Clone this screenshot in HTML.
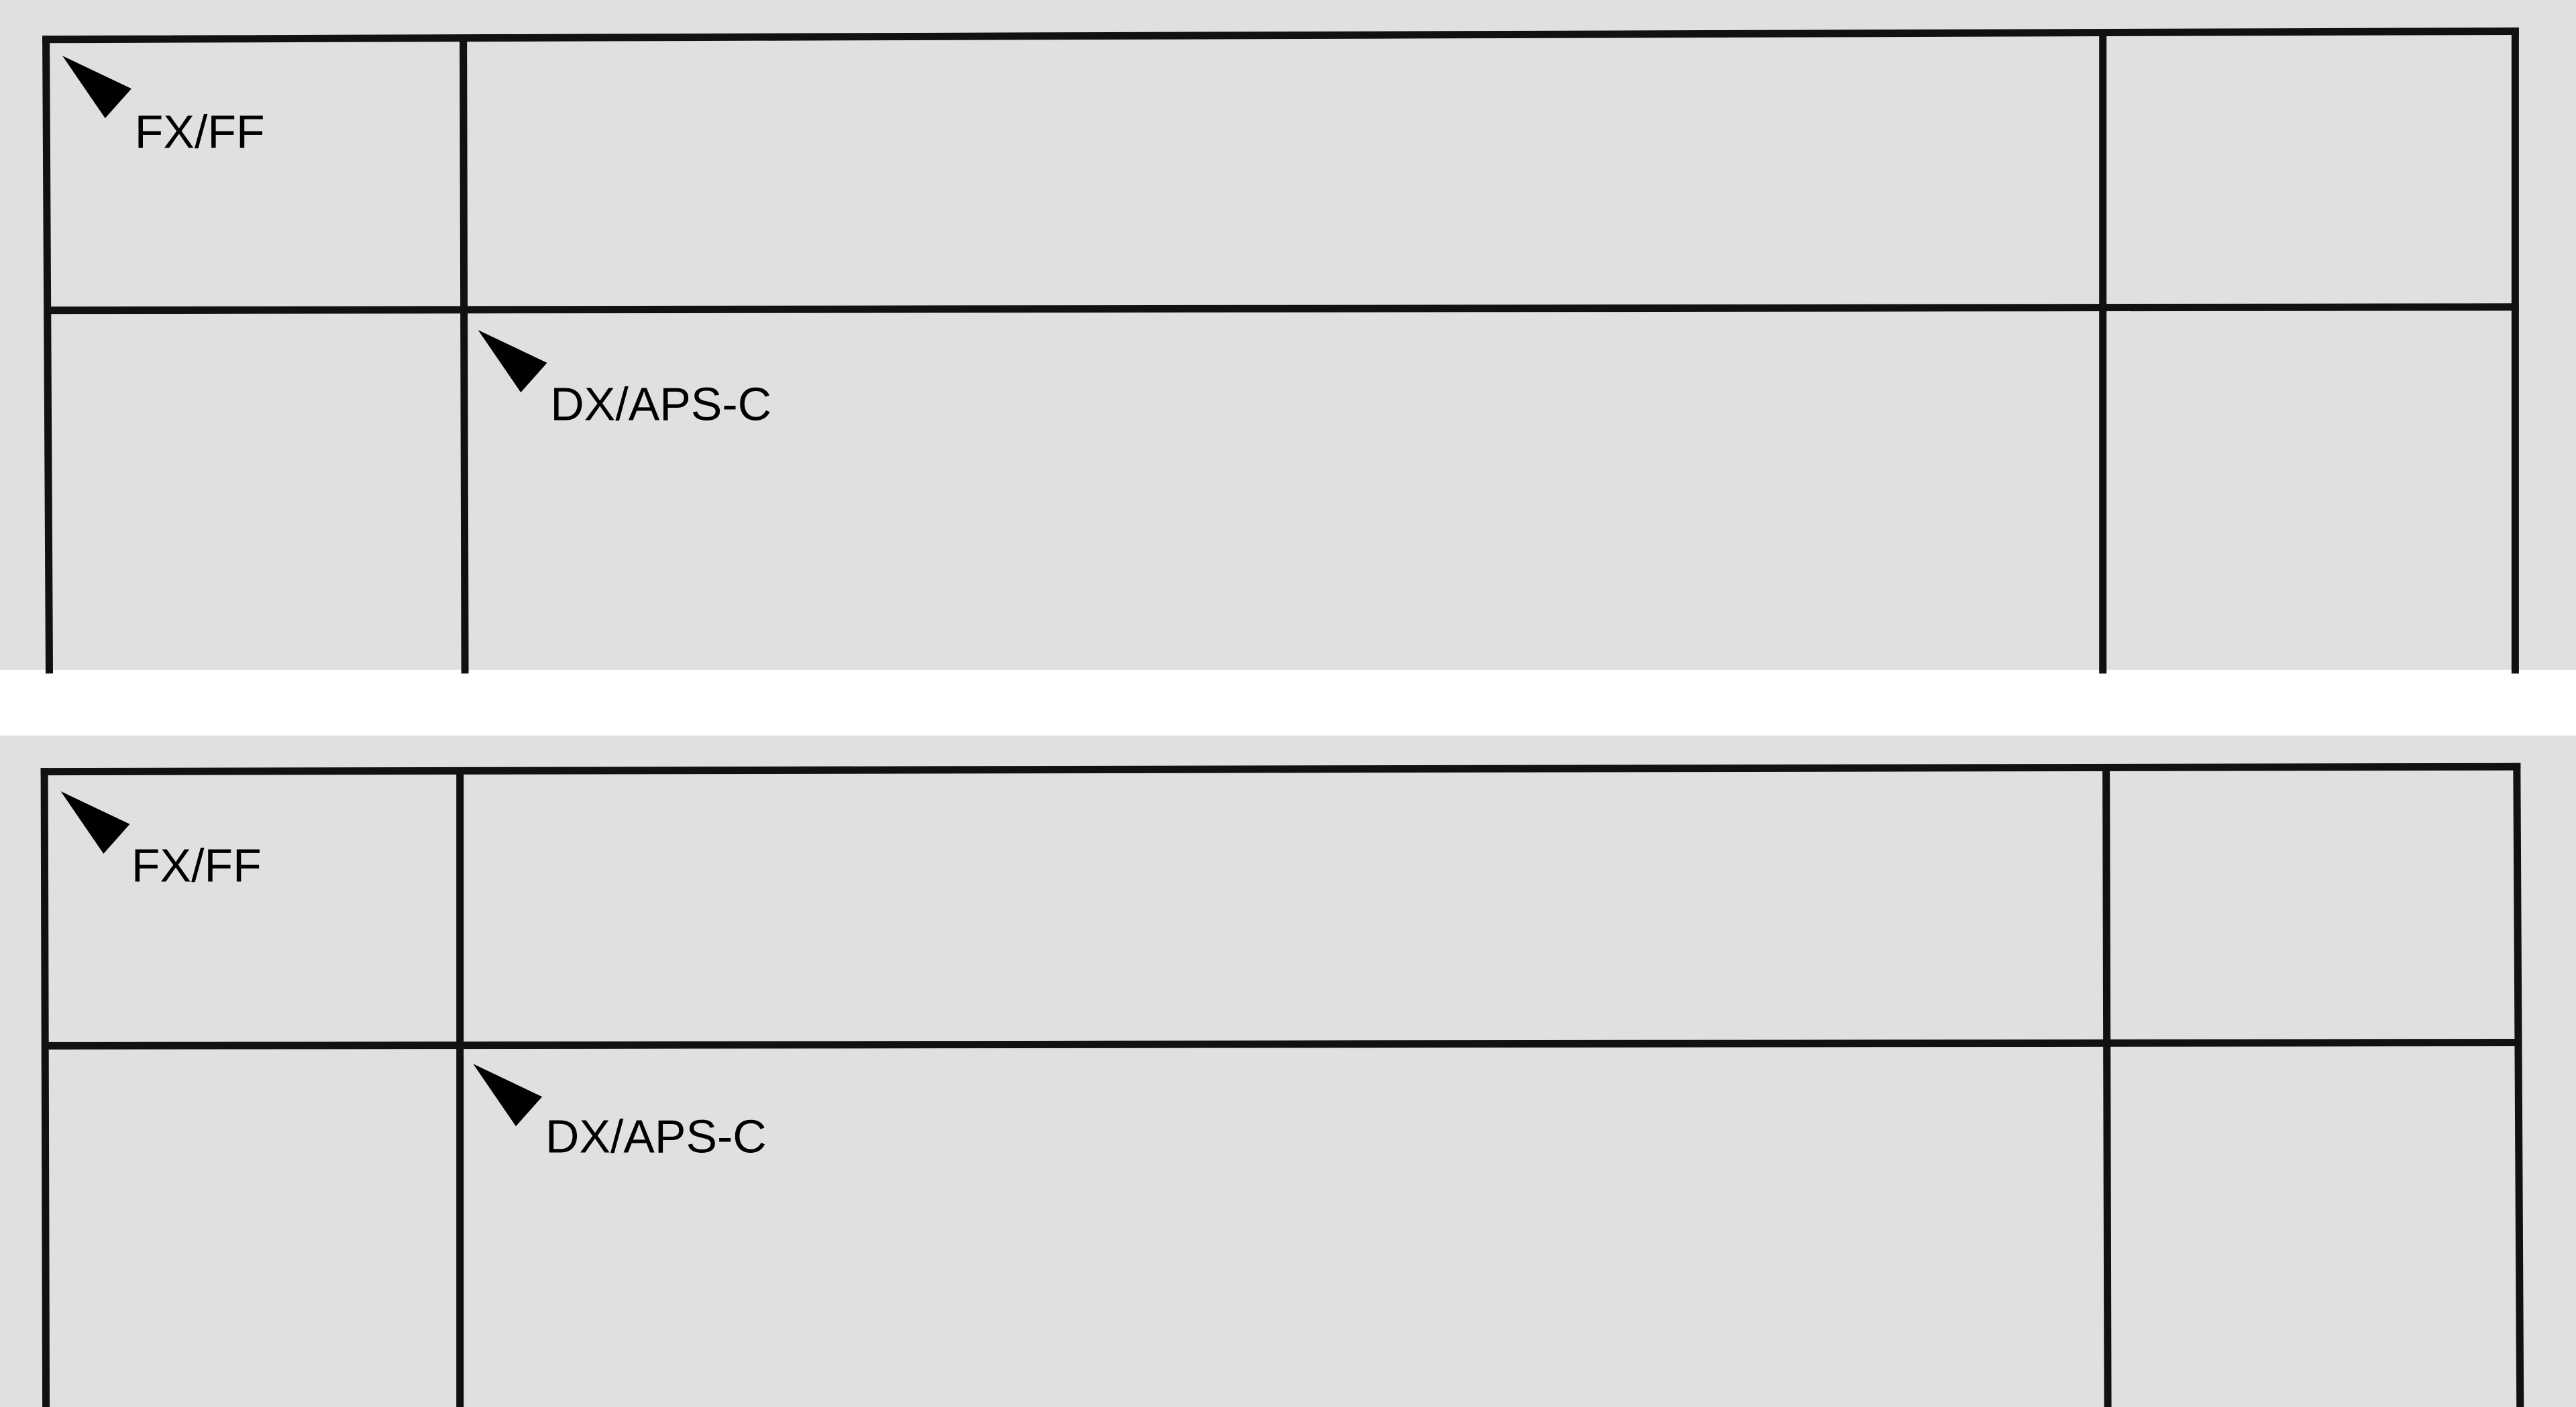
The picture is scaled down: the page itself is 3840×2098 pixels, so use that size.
<!DOCTYPE html>
<html><head><meta charset="utf-8"><style>
html,body{margin:0;padding:0;background:#fff;}
svg{display:block;}
text{font-family:"Liberation Sans",sans-serif;font-size:28.5px;fill:#000;}
</style></head><body>
<svg width="3840" height="2098" viewBox="0 0 1568 857" preserveAspectRatio="none" xmlns="http://www.w3.org/2000/svg">
<rect x="0" y="0" width="1568" height="408" fill="#e0e0e0"/>
<rect x="0" y="448" width="1568" height="409" fill="#e0e0e0"/>
<g stroke="#111" stroke-width="4.5" fill="none" stroke-linecap="square">
<line x1="28" y1="24" x2="1531" y2="19"/>
<line x1="28" y1="24" x2="30" y2="408"/>
<line x1="1531" y1="19" x2="1531" y2="408"/>
<line x1="282" y1="25" x2="283" y2="408"/>
<line x1="1280" y1="21" x2="1280" y2="408"/>
<line x1="30" y1="189" x2="1531" y2="187"/>
<line x1="27" y1="470" x2="1532" y2="467"/>
<line x1="27" y1="470" x2="28" y2="857"/>
<line x1="1532" y1="467" x2="1534" y2="857"/>
<line x1="280" y1="470" x2="280" y2="857"/>
<line x1="1282" y1="468" x2="1283" y2="857"/>
<line x1="28" y1="637" x2="1532" y2="635"/>
</g>
<g fill="#000">
<polygon points="38,34 80,54 64,72"/>
<polygon points="291,201 333,221 317,239"/>
<polygon points="37,482 79,502 63,520"/>
<polygon points="288,648 330,668 314,686"/>
</g>
<text x="82" y="90">FX/FF</text>
<text x="335" y="256">DX/APS-C</text>
<text x="80" y="537">FX/FF</text>
<text x="332" y="702">DX/APS-C</text>
</svg>
</body></html>
